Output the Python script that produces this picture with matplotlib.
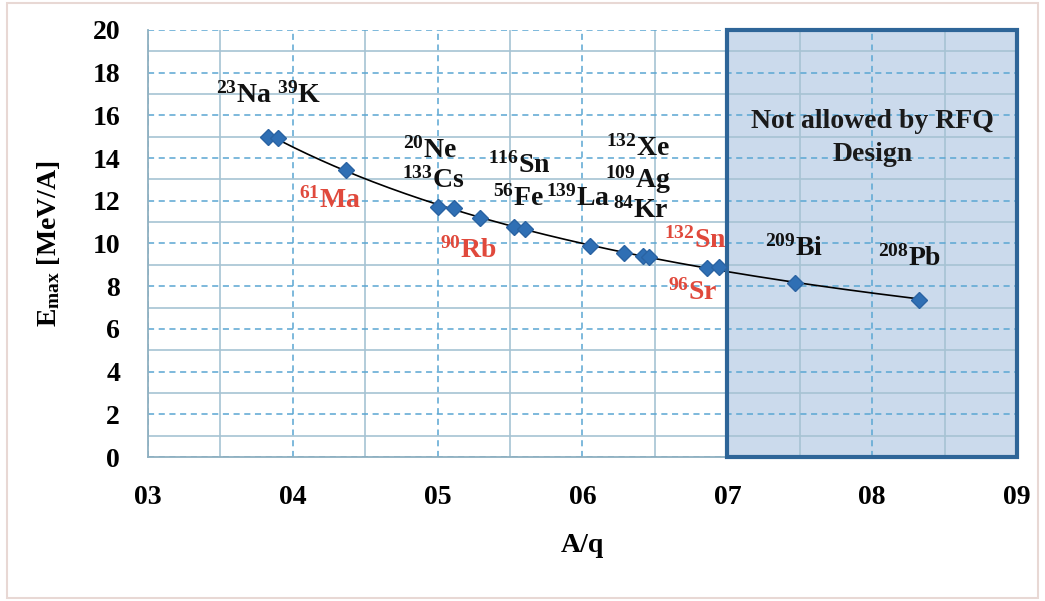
import numpy as np
import matplotlib
matplotlib.use("Agg")
import matplotlib.pyplot as plt
from matplotlib.patches import Rectangle

plt.rcParams['font.family'] = ['Liberation Serif', 'DejaVu Serif']
plt.rcParams['font.weight'] = 'bold'
plt.rcParams['axes.labelweight'] = 'bold'
plt.rcParams['mathtext.fontset'] = 'custom'
plt.rcParams['mathtext.rm'] = 'Liberation Serif:bold'
plt.rcParams['mathtext.it'] = 'Liberation Serif:bold'
plt.rcParams['mathtext.bf'] = 'Liberation Serif:bold'
plt.rcParams['mathtext.default'] = 'regular'

# data: A/q and Emax (MeV/A)
aq = [3.83, 3.90, 4.37, 5.00, 5.11, 5.29, 5.53, 5.60, 6.05, 6.29, 6.42, 6.46, 6.86, 6.94, 7.47, 8.32]
emax = [15.0, 14.95, 13.44, 11.71, 11.66, 11.19, 10.77, 10.68, 9.88, 9.56, 9.42, 9.37, 8.85, 8.90, 8.15, 7.35]

# isotope labels
labels_black = [r"$^{23}$Na $^{39}$K", r"$^{20}$Ne", r"$^{133}$Cs", r"$^{116}$Sn", r"$^{56}$Fe",
                r"$^{139}$La", r"$^{132}$Xe", r"$^{109}$Ag", r"$^{84}$Kr", r"$^{209}$Bi", r"$^{208}$Pb"]
labels_black_x = [3.83, 4.95, 4.97, 5.56, 5.56, 5.97, 6.38, 6.38, 6.40, 7.46, 8.26]
labels_black_y = [16.95, 14.38, 12.97, 13.68, 12.13, 12.13, 14.47, 12.97, 11.57, 9.79, 9.32]

labels_red = [r"$^{61}$Ma", r"$^{90}$Rb", r"$^{132}$Sn", r"$^{96}$Sr"]
labels_red_x = [4.26, 5.21, 6.78, 6.76]
labels_red_y = [12.04, 9.70, 10.16, 7.73]

forbidden_x = (7.0, 9.0)
forbidden_text = "Not allowed by RFQ\nDesign"

xticks = [3, 4, 5, 6, 7, 8, 9]
yticks = list(range(0, 21, 2))

fig = plt.figure(figsize=(10.45, 6.01), dpi=100)
fig.patch.set_facecolor('white')
fig.add_artist(Rectangle((0.007, 0.005), 0.986, 0.99, transform=fig.transFigure,
                         fill=False, edgecolor='#e8d8d4', lw=1.5))
ax = fig.add_axes([0.1416, 0.2396, 0.8316, 0.7105])

ax.set_xlim(3, 9)
ax.set_ylim(0, 20)

# forbidden region
ax.axvspan(forbidden_x[0], forbidden_x[1], facecolor='#cbdaec', edgecolor='none', zorder=0.5)
ax.add_patch(Rectangle((forbidden_x[0], 0), forbidden_x[1] - forbidden_x[0], 20,
                       fill=False, edgecolor='#2e6598', lw=3, zorder=4, clip_on=False))
ax.text(8.0, 14.94, forbidden_text, ha='center', va='center', fontsize=20,
        fontweight='bold', color='#1a1a1a', zorder=5, linespacing=1.4)

# grid
ax.set_xticks(xticks)
ax.set_xticks(np.arange(3.5, 9, 1.0), minor=True)
ax.set_yticks(yticks)
ax.set_yticks(np.arange(1, 20, 2), minor=True)
ax.grid(which='major', color='#5aa6d2', linestyle=(0, (4, 3)), lw=1.1)
ax.grid(which='minor', color='#a6c3d3', linestyle='-', lw=1.2)
ax.set_xticklabels([f"{t:02d}" for t in xticks])
ax.set_yticklabels([str(t) for t in yticks])
ax.tick_params(which='both', length=0, labelsize=20)
ax.tick_params(axis='x', pad=20)
ax.tick_params(axis='y', pad=20)

for s in ['top', 'right']:
    ax.spines[s].set_visible(False)
for s in ['left', 'bottom']:
    ax.spines[s].set_color('#8fb0c0')
    ax.spines[s].set_linewidth(1.3)

# trendline (power fit of data)
coef = np.polyfit(np.log(aq), np.log(emax), 1)
xf = np.linspace(min(aq), max(aq), 200)
ax.plot(xf, np.exp(np.polyval(coef, np.log(xf))), color='black', lw=1.2, zorder=3)

ax.plot(aq, emax, linestyle='none', marker='D', markersize=8.5, color='#2f6fb4',
        markeredgecolor='#2a63a3', zorder=4)

for t, x, y in zip(labels_black, labels_black_x, labels_black_y):
    ax.text(x, y, t, ha='center', va='center', fontsize=20, color='#111111', zorder=5)
for t, x, y in zip(labels_red, labels_red_x, labels_red_y):
    ax.text(x, y, t, ha='center', va='center', fontsize=20, color='#e0493c', zorder=5)

ax.set_xlabel("A/q", fontsize=20, fontweight='bold', labelpad=17)
ax.set_ylabel(r"E$_{max}$ [MeV/A]", fontsize=20, fontweight='bold', labelpad=22)

fig.savefig("out.png", dpi=100)
